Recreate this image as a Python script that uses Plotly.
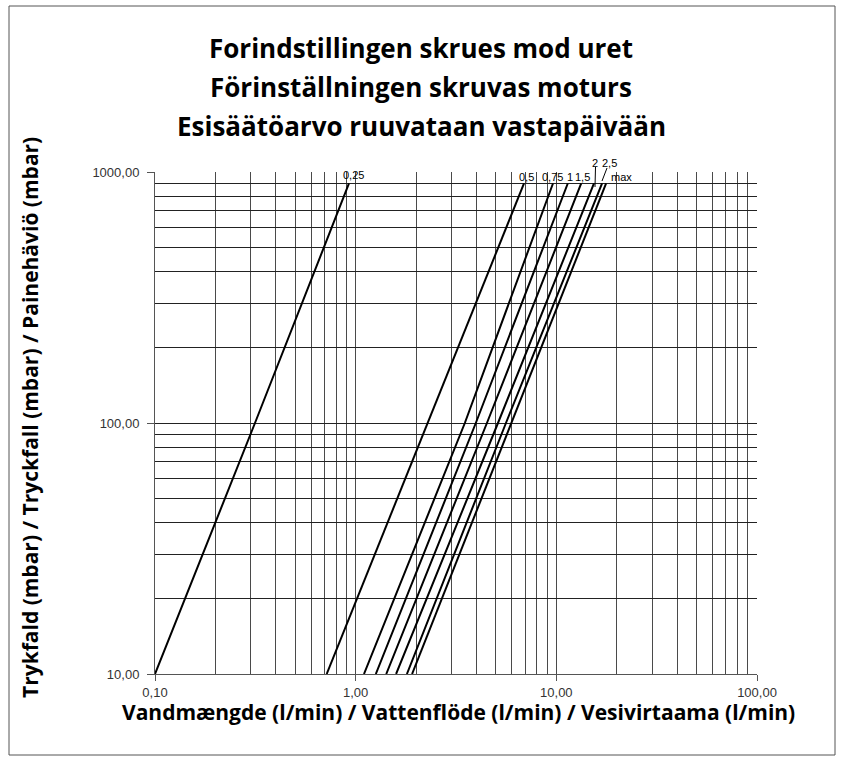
import plotly.graph_objects as go

# ---- data ----
settings = ["0,25", "0,5", "0,75", "1", "1,5", "2", "2,5", "max"]
pressure_mbar = [10, 100, 900]
flow_0_25 = [0.100, 0.315, 0.926]
flow_0_5 = [0.717, 2.29, 6.90]
flow_0_75 = [1.10, 3.50, 9.62]
flow_1 = [1.26, 3.97, 11.4]
flow_1_5 = [1.42, 4.51, 13.3]
flow_2 = [1.59, 5.12, 15.4]
flow_2_5 = [1.80, 5.61, 16.9]
flow_max = [1.91, 5.94, 17.7]
flows = [flow_0_25, flow_0_5, flow_0_75, flow_1, flow_1_5, flow_2, flow_2_5, flow_max]

x_major = [0.1, 1, 10, 100]
y_major = [10, 100, 1000]
x_grid = [0.2, 0.3, 0.4, 0.5, 0.6, 0.7, 0.8, 0.9, 1,
          2, 3, 4, 5, 6, 7, 8, 9, 10,
          20, 30, 40, 50, 60, 70, 80, 90]
y_grid = [20, 30, 40, 50, 60, 70, 80, 90, 100,
          200, 300, 400, 500, 600, 700, 800, 900]

title_lines = ["Forindstillingen skrues mod uret",
               "Förinställningen skruvas moturs",
               "Esisäätöarvo ruuvataan vastapäivään"]
x_title = "Vandmængde (l/min) / Vattenflöde (l/min) / Vesivirtaama (l/min)"
y_title = "Trykfald (mbar) / Tryckfall (mbar) / Painehäviö (mbar)"

# ---- layout geometry (pixels) ----
W, H = 841, 760
L, R, T, B = 155, 757, 172, 674


def px(x):
    return (x - L) / (R - L)


def py(y):
    return (B - y) / (B - T)


fig = go.Figure()
for name, q in zip(settings, flows):
    fig.add_trace(go.Scatter(x=q, y=pressure_mbar, mode="lines", name=name,
                             line=dict(color="black", width=2),
                             showlegend=False, hoverinfo="x+y"))

tick_font = dict(family="Liberation Sans, Arial, sans-serif", size=13, color="#333")

fig.update_xaxes(type="log", range=[-1, 2], tickmode="array",
                 tickvals=x_major, tickformat=".2f",
                 ticks="outside", ticklen=6, tickcolor="#555", ticklabelstandoff=0,
                 showline=True, linecolor="#555", linewidth=1,
                 showgrid=False,
                 minor=dict(tickvals=x_grid, showgrid=True, gridcolor="#4a4a4a",
                            gridwidth=1, ticks=""),
                 tickfont=tick_font, zeroline=False)
fig.update_yaxes(type="log", range=[1, 3], tickmode="array",
                 tickvals=y_major, tickformat=".2f",
                 ticks="outside", ticklen=7, tickcolor="#555", ticklabelstandoff=5,
                 showline=True, linecolor="#555", linewidth=1,
                 showgrid=False,
                 minor=dict(tickvals=y_grid, showgrid=True, gridcolor="#222",
                            gridwidth=1, ticks=""),
                 tickfont=tick_font, zeroline=False)

ann = []
title_font = dict(family="Open Sans, Noto Sans, sans-serif", size=26, color="black")
for line, yc in zip(title_lines, [48, 87, 126]):
    ann.append(dict(text="<b>%s</b>" % line, x=px(421), y=py(yc), xref="paper", yref="paper",
                    xanchor="center", yanchor="middle", showarrow=False, font=title_font))
axis_font = dict(family="Open Sans, Noto Sans, sans-serif", size=21, color="black")
ann.append(dict(text="<b>%s</b>" % x_title, x=px(458), y=py(712), xref="paper", yref="paper",
                xanchor="center", yanchor="middle", showarrow=False, font=axis_font))
ann.append(dict(text="<b>%s</b>" % y_title, x=px(30), y=py(418), xref="paper", yref="paper",
                xanchor="center", yanchor="middle", showarrow=False, textangle=-90, font=axis_font))

label_font = dict(family="Liberation Sans, Arial, sans-serif", size=11, color="black")
label_pos = [(353, 175), (526, 176.5), (552, 176.5), (569.5, 176.5), (582, 176.5),
             (595, 162.5), (609, 162.5), (621, 177)]
for name, (lx, ly) in zip(settings, label_pos):
    ann.append(dict(text=name, x=px(lx), y=py(ly), xref="paper", yref="paper",
                    xanchor="center", yanchor="middle", showarrow=False, font=label_font))

shapes = [
    dict(type="rect", xref="paper", yref="paper", x0=px(9), x1=px(835), y0=py(755), y1=py(6),
         line=dict(color="#555", width=1)),
    dict(type="line", xref="paper", yref="paper", x0=px(595.5), x1=px(595), y0=py(167), y1=py(187),
         line=dict(color="black", width=1)),
    dict(type="line", xref="paper", yref="paper", x0=px(607), x1=px(602), y0=py(168), y1=py(181),
         line=dict(color="black", width=1)),
]

fig.update_layout(width=W, height=H, margin=dict(l=L, r=W - R, t=T, b=H - B),
                  paper_bgcolor="white", plot_bgcolor="white",
                  separators=",.", annotations=ann, shapes=shapes)

fig.write_html("out.html", config={"displayModeBar": False},
               post_script="document.body.style.margin='0px';document.body.style.padding='0px';")
